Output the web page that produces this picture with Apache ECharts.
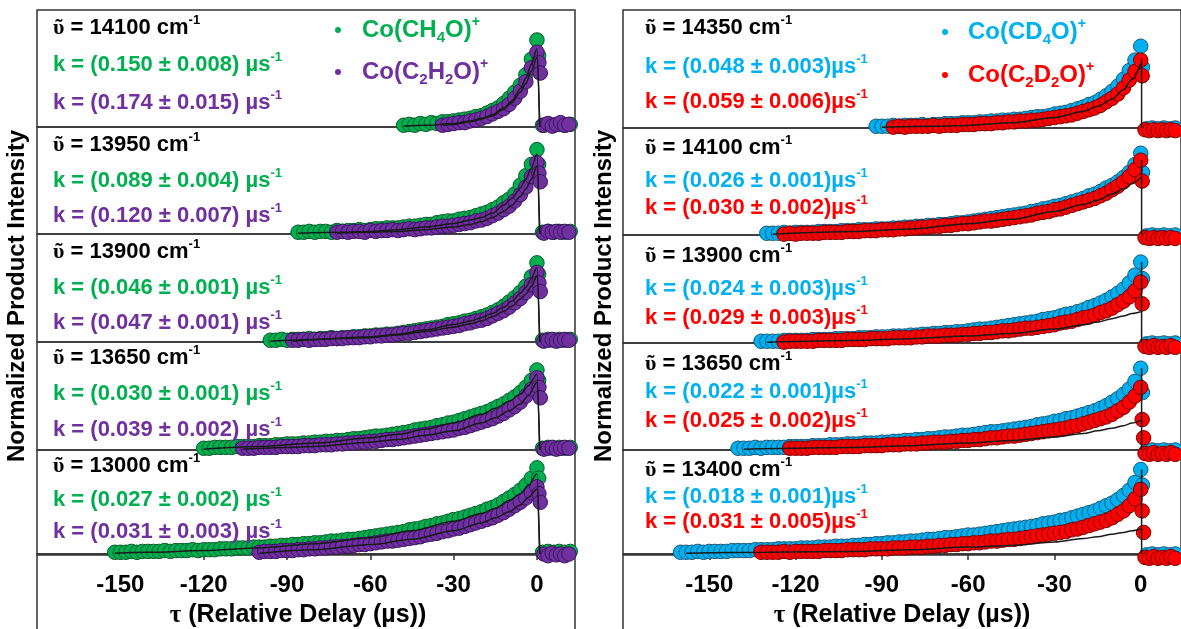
<!DOCTYPE html>
<html><head><meta charset="utf-8">
<script src="https://cdn.jsdelivr.net/npm/echarts@6/dist/echarts.min.js"></script>
<style>html,body{margin:0;padding:0;background:#fff}#c{width:1181px;height:629px}</style>
</head><body><div id="c"></div>
<script>
// ---------------- DATA ----------------
const STEP = 2; // delay step (µs)
const leftWavenumbers = ['14100', '13950', '13900', '13650', '13000'];
const rightWavenumbers = ['14350', '14100', '13900', '13650', '13400'];
const leftKA = ['0.150 ± 0.008', '0.089 ± 0.004', '0.046 ± 0.001', '0.030 ± 0.001', '0.027 ± 0.002'];
const leftKB = ['0.174 ± 0.015', '0.120 ± 0.007', '0.047 ± 0.001', '0.039 ± 0.002', '0.031 ± 0.003'];
const rightKA = ['0.048 ± 0.003', '0.026 ± 0.001', '0.024 ± 0.003', '0.022 ± 0.001', '0.018 ± 0.001'];
const rightKB = ['0.059 ± 0.006', '0.030 ± 0.002', '0.029 ± 0.003', '0.025 ± 0.002', '0.031 ± 0.005'];

// first delay of each trace (µs)
const lAStart = [-48, -86, -96, -120, -152];
const lBStart = [-34, -72, -88, -106, -100];
const rAStart = [-92, -130, -132, -140, -160];
const rBStart = [-86, -124, -124, -122, -132];

// Co(CH4O)+ normalized intensities
const lA1 = [.02,.03,.02,.04,.03,.05,.04,.06,.06,.07,.08,.09,.10,.12,.13,.16,.19,.22,.27,.33,.40,.48,.60,.78,1.0];
const lA2 = [.02,.02,.03,.02,.03,.03,.02,.04,.03,.04,.04,.05,.04,.05,.06,.06,.07,.07,.07,.08,.09,.09,.10,.11,.11,.13,.14,.15,.15,.17,.18,.19,.21,.23,.25,.28,.31,.36,.40,.46,.56,.67,.80,.97];
const lA3 = [.02,.02,.03,.02,.03,.03,.03,.04,.03,.04,.04,.05,.04,.05,.05,.06,.06,.07,.07,.08,.08,.09,.09,.10,.11,.12,.13,.14,.15,.16,.17,.18,.20,.21,.22,.24,.25,.27,.29,.31,.34,.37,.41,.46,.51,.57,.64,.75,.91];
const lA4 = [.02,.02,.03,.03,.03,.03,.04,.04,.04,.04,.05,.05,.05,.06,.06,.07,.07,.07,.08,.08,.09,.09,.10,.10,.11,.11,.12,.13,.13,.14,.15,.16,.16,.17,.18,.19,.20,.21,.23,.24,.25,.26,.28,.29,.31,.32,.34,.36,.38,.40,.42,.44,.47,.50,.53,.57,.61,.66,.72,.80,.92];
const lA5 = [.02,.02,.02,.03,.02,.03,.03,.03,.03,.04,.03,.04,.04,.04,.05,.04,.05,.05,.05,.06,.06,.06,.07,.07,.07,.08,.08,.08,.09,.09,.10,.10,.11,.11,.12,.12,.13,.13,.14,.15,.15,.16,.17,.17,.18,.19,.20,.21,.22,.23,.24,.25,.26,.28,.29,.30,.32,.33,.35,.36,.38,.40,.41,.43,.45,.47,.49,.52,.54,.57,.61,.65,.69,.74,.80,.88,1.0];
// Co(C2H2O)+
const lB1 = [.02,.03,.04,.05,.05,.07,.08,.10,.12,.15,.18,.21,.26,.33,.41,.52,.68,.86];
const lB2 = [.02,.03,.02,.03,.03,.02,.04,.03,.04,.04,.05,.04,.05,.06,.05,.06,.07,.07,.08,.09,.09,.10,.11,.12,.13,.15,.16,.18,.21,.24,.28,.32,.38,.45,.54,.66,.82];
const lB3 = [.02,.02,.03,.02,.03,.03,.03,.04,.04,.04,.05,.05,.05,.06,.06,.07,.07,.08,.08,.09,.10,.10,.11,.12,.13,.14,.15,.16,.17,.18,.19,.21,.22,.24,.25,.27,.30,.33,.36,.40,.45,.50,.57,.66,.80];
const lB4 = [.02,.02,.02,.03,.03,.03,.03,.04,.04,.04,.04,.05,.05,.05,.06,.06,.06,.07,.07,.08,.08,.09,.09,.10,.10,.11,.12,.12,.13,.14,.15,.16,.17,.18,.19,.20,.21,.22,.23,.25,.26,.28,.30,.32,.34,.36,.39,.42,.46,.50,.55,.62,.70,.83];
const lB5 = [.02,.03,.03,.03,.04,.04,.04,.05,.05,.06,.06,.07,.07,.08,.08,.09,.09,.10,.11,.11,.12,.13,.14,.15,.15,.16,.17,.18,.19,.20,.22,.23,.24,.26,.27,.29,.30,.32,.34,.36,.38,.40,.42,.45,.48,.52,.56,.60,.65,.71,.78];
// Co(CD4O)+
const rA1 = [.02,.02,.02,.03,.02,.03,.03,.03,.04,.03,.04,.04,.05,.05,.05,.06,.06,.06,.07,.07,.08,.08,.09,.09,.10,.10,.11,.12,.13,.13,.14,.16,.17,.18,.20,.22,.24,.27,.29,.33,.37,.42,.48,.56,.66,.78,.94];
const rA2 = [.02,.02,.02,.03,.02,.03,.03,.03,.03,.04,.04,.04,.04,.05,.05,.05,.06,.06,.06,.07,.07,.07,.08,.08,.09,.09,.10,.10,.11,.11,.12,.12,.13,.14,.14,.15,.16,.17,.18,.19,.20,.21,.22,.23,.24,.25,.27,.28,.30,.31,.33,.34,.36,.38,.40,.42,.45,.47,.50,.54,.57,.61,.66,.72,.81,.94];
const rA3 = [.02,.02,.02,.02,.03,.03,.03,.03,.03,.04,.04,.04,.04,.05,.05,.05,.05,.06,.06,.06,.07,.07,.07,.08,.08,.08,.09,.09,.10,.10,.11,.11,.12,.12,.13,.13,.14,.15,.16,.16,.17,.18,.19,.20,.21,.22,.23,.24,.25,.27,.28,.29,.31,.33,.34,.36,.38,.41,.43,.46,.49,.53,.57,.62,.69,.78,.93];
const rA4 = [.02,.02,.02,.03,.02,.03,.03,.03,.03,.04,.04,.04,.04,.05,.05,.05,.06,.06,.06,.07,.07,.07,.08,.08,.08,.09,.09,.10,.10,.11,.11,.12,.12,.13,.13,.14,.15,.15,.16,.17,.17,.18,.19,.20,.21,.21,.22,.23,.24,.25,.26,.27,.29,.30,.31,.33,.34,.36,.37,.39,.41,.43,.45,.48,.51,.55,.59,.64,.70,.79,.94];
const rA5 = [.02,.02,.02,.03,.02,.03,.03,.03,.03,.04,.04,.04,.04,.05,.05,.05,.05,.06,.06,.06,.06,.07,.07,.07,.08,.08,.08,.09,.09,.09,.10,.10,.11,.11,.12,.12,.13,.13,.14,.14,.15,.15,.16,.17,.17,.18,.19,.19,.20,.21,.22,.22,.23,.24,.25,.26,.27,.28,.29,.30,.31,.32,.33,.35,.36,.37,.39,.40,.42,.44,.46,.48,.50,.53,.56,.59,.63,.68,.74,.83,.98];
// Co(C2D2O)+
const rB1 = [.01,.02,.01,.02,.02,.02,.02,.03,.02,.03,.03,.03,.04,.04,.04,.05,.05,.05,.06,.06,.07,.07,.08,.08,.09,.09,.10,.11,.12,.13,.14,.15,.17,.19,.21,.23,.26,.30,.34,.39,.46,.55,.65,.78];
const rB2 = [.01,.02,.01,.02,.02,.02,.02,.03,.03,.03,.03,.04,.04,.04,.05,.05,.05,.06,.06,.06,.07,.07,.08,.08,.09,.09,.10,.10,.11,.11,.12,.13,.13,.14,.15,.16,.16,.17,.18,.19,.20,.21,.22,.23,.25,.26,.27,.29,.30,.32,.34,.36,.38,.40,.42,.45,.48,.52,.56,.61,.67,.75,.86];
const rB3 = [.01,.02,.02,.02,.02,.02,.03,.03,.03,.03,.03,.04,.04,.04,.04,.05,.05,.05,.05,.06,.06,.06,.06,.07,.07,.08,.08,.08,.09,.09,.09,.10,.10,.11,.11,.12,.12,.13,.14,.14,.15,.16,.17,.17,.18,.19,.20,.21,.23,.24,.25,.27,.29,.30,.32,.35,.37,.40,.44,.48,.53,.60,.70];
const rB4 = [.02,.02,.02,.02,.03,.03,.03,.03,.03,.04,.04,.04,.04,.05,.05,.05,.05,.06,.06,.06,.07,.07,.07,.08,.08,.09,.09,.09,.10,.10,.11,.11,.12,.12,.13,.14,.14,.15,.16,.16,.17,.18,.19,.20,.21,.22,.23,.24,.25,.27,.28,.30,.32,.34,.36,.38,.41,.45,.49,.55,.62,.72];
const rB5 = [.02,.02,.02,.02,.03,.02,.03,.03,.03,.03,.03,.04,.04,.04,.04,.05,.05,.05,.05,.06,.06,.06,.06,.07,.07,.07,.08,.08,.08,.09,.09,.10,.10,.11,.11,.12,.12,.13,.13,.14,.15,.15,.16,.17,.17,.18,.19,.20,.21,.22,.23,.24,.25,.26,.28,.29,.31,.33,.35,.37,.39,.42,.46,.50,.56,.64,.75];

// points at and after time zero [delay, intensity]
const lAPost = [
  [[0.6,.82],[2,.02],[4,.03],[6,.02],[8,.03],[10,.02],[12,.03]],
  [[0.6,.80],[2,.02],[4,.03],[6,.02],[8,.03],[10,.02],[12,.03]],
  [[0.6,.78],[2,.02],[4,.03],[6,.02],[8,.03],[10,.02],[12,.03]],
  [[0.6,.80],[2,.02],[4,.03],[6,.02],[8,.03],[10,.02],[12,.03]],
  [[0.6,.88],[2,.02],[4,.03],[6,.02],[8,.03],[10,.02],[12,.03]]];
const lBPost = [
  [[0.7,.74],[1.2,.62],[2.5,.02],[4,.04],[5.5,.01],[7,.03],[8.5,.05],[10,.02],[11.5,.03]],
  [[0.7,.70],[1.2,.60],[2.5,.01],[4,.03],[5.5,.02],[7,.03],[8.5,.02],[10,.03],[11.5,.02]],
  [[0.7,.68],[1.2,.58],[2.5,.01],[4,.02],[5.5,.03],[7,.01],[8.5,.02],[10,.03],[11.5,.02]],
  [[0.7,.72],[1.2,.60],[2.5,.01],[4,.02],[5.5,.03],[7,.01],[8.5,.02],[10,.03],[11.5,.02]],
  [[0.7,.70],[1.2,.60],[2.5,.00],[4,-.02],[5.5,.01],[7,-.01],[8.5,.00],[10,-.02],[11.5,.00]]];
const rAPost = [
  [[0.6,.70],[2,-.01],[4,.00],[6,-.01],[8,.00],[10,-.01],[12,.00]],
  [[0.6,.72],[2,-.01],[4,.00],[6,-.01],[8,.00],[10,-.01],[12,.00]],
  [[0.6,.74],[2,-.01],[4,.00],[6,-.01],[8,.00],[10,-.01],[12,.00]],
  [[0.6,.66],[2,-.01],[4,.00],[6,-.01],[8,.00],[10,-.01],[12,.00]],
  [[0.6,.80],[2,-.01],[4,.00],[6,-.01],[8,.00],[10,-.01],[12,.00]]];
const rBPost = [
  [[0.5,.60],[1.5,-.02],[3,-.03],[4.5,-.02],[6,-.03],[7.5,-.02],[9,-.03],[10.5,-.02],[12,-.03]],
  [[0.5,.62],[1.5,-.03],[3,-.04],[4.5,-.03],[6,-.04],[7.5,-.03],[9,-.04],[10.5,-.03],[12,-.04]],
  [[0.5,.45],[1.5,-.04],[3,-.05],[4.5,-.03],[6,-.05],[7.5,-.04],[9,-.05],[10.5,-.03],[12,-.05]],
  [[0.5,.35],[1,.14],[1.5,-.04],[3,-.05],[4.5,-.03],[6,-.05],[7.5,-.04],[9,-.05],[10.5,-.03],[12,-.05]],
  [[0.5,.50],[1,.25],[1.5,-.04],[3,-.05],[4.5,-.03],[6,-.05],[7.5,-.04],[9,-.05],[10.5,-.03],[12,-.05]]];

// single-exponential fit curves [delay, intensity]
const lAFit = [
  [[-48,.01],[-40,.02],[-30,.04],[-24,.07],[-20,.10],[-16,.14],[-12,.22],[-9,.30],[-6,.44],[-4,.56],[-2,.72],[0,.90],[1,0]],
  [[-86,.01],[-70,.02],[-60,.03],[-50,.05],[-40,.08],[-30,.12],[-24,.16],[-20,.19],[-16,.24],[-12,.33],[-9,.41],[-6,.53],[-4,.63],[-2,.76],[0,.92],[1,0]],
  [[-96,.01],[-80,.03],[-60,.06],[-50,.09],[-40,.14],[-30,.20],[-24,.24],[-20,.28],[-16,.33],[-12,.40],[-9,.47],[-6,.56],[-4,.63],[-2,.73],[0,.86],[1,0]],
  [[-120,.01],[-100,.04],[-80,.08],[-60,.14],[-50,.18],[-40,.24],[-30,.31],[-20,.41],[-15,.48],[-10,.56],[-6,.64],[-3,.74],[0,.87],[1,0]],
  [[-152,.01],[-140,.02],[-120,.04],[-100,.07],[-80,.12],[-60,.19],[-45,.27],[-30,.38],[-20,.47],[-15,.53],[-10,.62],[-6,.70],[-3,.80],[0,.93],[1,0]]];
const lBFit = [
  [[-34,.02],[-30,.03],[-24,.06],[-20,.09],[-16,.13],[-12,.20],[-9,.28],[-6,.40],[-4,.50],[-2,.64],[0,.80],[1,0]],
  [[-72,.01],[-60,.02],[-50,.03],[-40,.05],[-30,.08],[-24,.11],[-20,.14],[-16,.19],[-12,.26],[-9,.33],[-6,.43],[-4,.52],[-2,.63],[0,.78],[1,0]],
  [[-88,.01],[-70,.04],[-60,.05],[-50,.08],[-40,.12],[-30,.17],[-24,.21],[-20,.24],[-16,.29],[-12,.35],[-9,.41],[-6,.49],[-4,.55],[-2,.64],[0,.76],[1,0]],
  [[-106,.01],[-90,.03],[-80,.04],[-60,.09],[-50,.12],[-40,.17],[-30,.22],[-20,.31],[-15,.37],[-10,.45],[-6,.53],[-3,.63],[0,.78],[1,0]],
  [[-100,.01],[-80,.05],[-60,.11],[-45,.17],[-30,.27],[-20,.36],[-15,.42],[-10,.49],[-6,.57],[-3,.66],[0,.75],[1,0]]];
const rFit = [
  [[-90,.01],[-70,.02],[-60,.03],[-45,.06],[-30,.12],[-20,.19],[-15,.25],[-10,.33],[-6,.44],[-3,.56],[0,.74]],
  [[-128,.01],[-100,.04],[-80,.07],[-60,.13],[-45,.18],[-30,.27],[-20,.35],[-15,.40],[-10,.47],[-6,.53],[-3,.59],[0,.66]],
  [[-130,.01],[-100,.03],[-80,.05],[-60,.08],[-45,.11],[-30,.16],[-20,.21],[-15,.24],[-10,.28],[-6,.31],[-3,.34],[0,.36]],
  [[-138,.01],[-100,.03],[-80,.05],[-60,.08],[-45,.11],[-30,.15],[-20,.19],[-15,.22],[-10,.25],[-6,.28],[-3,.31],[0,.34]],
  [[-158,.01],[-130,.02],[-100,.03],[-80,.05],[-60,.08],[-45,.10],[-30,.14],[-20,.18],[-15,.20],[-10,.23],[-6,.25],[-3,.27],[0,.29]]];
// height of the vertical drop line at time zero (right panel)
const rDropTop = [.80, .86, .93, .94, .98];
const rDropX = 0.3;

// ---------------- LAYOUT / STYLE ----------------
const SANS = '"Liberation Sans", Arial, sans-serif';
const SERIF = '"Liberation Serif", "DejaVu Serif", serif';
const UNIT = 87;
const MARKER = 14.5;
const leftTops = [10, 127, 234, 342, 450], leftBots = [127, 234, 342, 450, 555];
const rightTops = [10, 128, 235, 343, 450], rightBots = [128, 235, 343, 450, 555];
const colA_L = '#00B050', colB_L = '#7030A0', colA_R = '#00B0F0', colB_R = '#FF0000';
const bordA_L = '#0a5a28', bordB_L = '#3a1560', bordA_R = '#1a5a78', bordB_R = '#7a0000';
const leftTextY = [[28, 65, 103], [145, 181, 216], [252, 288, 323], [358, 394, 430], [466, 500, 532]];
const rightTextY = [[28, 67, 102], [148, 181, 208], [256, 289, 318], [364, 392, 421], [470, 497, 522]];

const seq = (start, ys) => ys.map((y, i) => [start + i * STEP, y]);

const grids = [], xAxes = [], yAxes = [], series = [];
function addPanel(side, i) {
  const L = side === 'L';
  const tops = L ? leftTops : rightTops, bots = L ? leftBots : rightBots;
  const h = bots[i] - tops[i];
  const gi = grids.length;
  grids.push({left: L ? 37 : 623, width: L ? 538 : 565, top: tops[i], height: h,
    show: true, borderColor: '#333', borderWidth: 1.5, backgroundColor: 'rgba(0,0,0,0)'});
  const xMax = L ? 13.7 : 14;
  const bottom = i === 4;
  xAxes.push(bottom ? {
    gridIndex: gi, type: 'value', min: -180, max: xMax, interval: 30,
    axisLine: {show: true, onZero: false, lineStyle: {color: '#333', width: 1.5}},
    axisTick: {show: true, length: 6, lineStyle: {color: '#333', width: 1.5}},
    axisLabel: {fontFamily: SANS, fontWeight: 'bold', fontSize: 24, color: '#000', margin: 19, showMinLabel: false, showMaxLabel: false},
    splitLine: {show: false},
    name: '{t|τ} (Relative Delay (µs))', nameLocation: 'middle', nameGap: 49,
    nameTextStyle: {fontFamily: SANS, fontWeight: 'bold', fontSize: 25, color: '#000',
      padding: L ? [0, 16, 0, 0] : [0, 0, 0, 0],
      rich: {t: {fontFamily: SERIF, fontWeight: 'bold', fontSize: 25, color: '#000'}}}
  } : {gridIndex: gi, type: 'value', min: -180, max: xMax, show: false});
  yAxes.push({gridIndex: gi, type: 'value', min: 0, max: h / UNIT, show: false});
  const startA = L ? lAStart[i] : rAStart[i], startB = L ? lBStart[i] : rBStart[i];
  const ysA = L ? [lA1, lA2, lA3, lA4, lA5][i] : [rA1, rA2, rA3, rA4, rA5][i];
  const ysB = L ? [lB1, lB2, lB3, lB4, lB5][i] : [rB1, rB2, rB3, rB4, rB5][i];
  const postA = L ? lAPost[i] : rAPost[i], postB = L ? lBPost[i] : rBPost[i];
  const mk = (data, color, border) => ({type: 'scatter', xAxisIndex: gi, yAxisIndex: gi, data, symbolSize: MARKER,
    clip: false, silent: true, itemStyle: {color, borderColor: border, borderWidth: 1, opacity: 1}, z: 2});
  series.push(mk(seq(startA, ysA).concat(postA), L ? colA_L : colA_R, L ? bordA_L : bordA_R));
  series.push(mk(seq(startB, ysB).concat(postB), L ? colB_L : colB_R, L ? bordB_L : bordB_R));
  const fit = (data) => ({type: 'line', xAxisIndex: gi, yAxisIndex: gi, data, symbol: 'none', smooth: 0.3, smoothMonotone: 'x',
    clip: false, silent: true, lineStyle: {color: '#1a1a1a', width: 1.5}, z: 3});
  if (L) {
    series.push(fit(lAFit[i]));
    series.push(fit(lBFit[i]));
  } else {
    series.push(fit(rFit[i]));
    series.push({type: 'line', xAxisIndex: gi, yAxisIndex: gi, data: [[rDropX, rDropTop[i]], [rDropX, 0]], symbol: 'none',
      clip: false, silent: true, lineStyle: {color: '#1a1a1a', width: 1.5}, z: 3});
  }
}
for (let i = 0; i < 5; i++) addPanel('L', i);
for (let i = 0; i < 5; i++) addPanel('R', i);

// ---------------- TEXT ----------------
function richFor(color, size) {
  return {
    n: {fontFamily: SANS, fontWeight: 'bold', fontSize: size, lineHeight: size + 6, fill: color},
    v: {fontFamily: SERIF, fontWeight: 'bold', fontSize: size, lineHeight: size + 6, fill: color},
    sup: {fontFamily: SANS, fontWeight: 'bold', fontSize: Math.round(size * 0.6), lineHeight: Math.round(size * 0.6), verticalAlign: 'top', fill: color},
    sub: {fontFamily: SANS, fontWeight: 'bold', fontSize: Math.round(size * 0.62), lineHeight: Math.round(size * 0.62), verticalAlign: 'bottom', fill: color}
  };
}
const graphics = [];
function txt(x, y, text, color, size) {
  graphics.push({type: 'text', x, y, z: 10, silent: true,
    style: {text, rich: richFor(color, size), align: 'left', verticalAlign: 'middle', fill: color,
      font: 'bold ' + size + 'px ' + SANS}});
}
for (let i = 0; i < 5; i++) {
  const yl = leftTextY[i];
  txt(53, yl[0], '{v|ῦ}{n| = ' + leftWavenumbers[i] + ' cm}{sup|-1}', '#000', 22);
  txt(53, yl[1], '{n|k = (' + leftKA[i] + ') µs}{sup|-1}', colA_L, 22);
  txt(53, yl[2], '{n|k = (' + leftKB[i] + ') µs}{sup|-1}', colB_L, 22);
  const yr = rightTextY[i];
  txt(645, yr[0], '{v|ῦ}{n| = ' + rightWavenumbers[i] + ' cm}{sup|-1}', '#000', 22);
  txt(645, yr[1], '{n|k = (' + rightKA[i] + ')µs}{sup|-1}', colA_R, 22);
  txt(645, yr[2], '{n|k = (' + rightKB[i] + ')µs}{sup|-1}', colB_R, 22);
}
// legends
function legendItem(xDot, xText, y, color, label) {
  graphics.push({type: 'circle', shape: {cx: xDot, cy: y, r: 3}, style: {fill: color}, z: 10, silent: true});
  txt(xText, y, label, color, 24);
}
legendItem(338, 362, 30, colA_L, '{n|Co(CH}{sub|4}{n|O)}{sup|+}');
legendItem(338, 362, 72, colB_L, '{n|Co(C}{sub|2}{n|H}{sub|2}{n|O)}{sup|+}');
legendItem(945, 968, 32, colA_R, '{n|Co(CD}{sub|4}{n|O)}{sup|+}');
legendItem(945, 968, 75, colB_R, '{n|Co(C}{sub|2}{n|D}{sub|2}{n|O)}{sup|+}');
// y titles
['Normalized Product Intensity'].forEach(t => {
  graphics.push({type: 'text', x: 17, y: 296, rotation: Math.PI / 2, z: 10, silent: true,
    style: {text: t, font: 'bold 24px ' + SANS, fill: '#000', align: 'center', verticalAlign: 'middle'}});
  graphics.push({type: 'text', x: 604, y: 296, rotation: Math.PI / 2, z: 10, silent: true,
    style: {text: t, font: 'bold 24px ' + SANS, fill: '#000', align: 'center', verticalAlign: 'middle'}});
});
// outer frame continuing below the plots
graphics.push({type: 'rect', shape: {x: 37, y: 555, width: 538, height: 120}, style: {fill: 'none', stroke: '#333', lineWidth: 1.5}, z: 0, silent: true});
graphics.push({type: 'rect', shape: {x: 623, y: 555, width: 565, height: 120}, style: {fill: 'none', stroke: '#333', lineWidth: 1.5}, z: 0, silent: true});

const chart = echarts.init(document.getElementById('c'), null, {renderer: 'canvas'});
chart.setOption({
  animation: false,
  backgroundColor: '#fff',
  grid: grids, xAxis: xAxes, yAxis: yAxes, series,
  graphic: {elements: graphics}
});
</script></body></html>
